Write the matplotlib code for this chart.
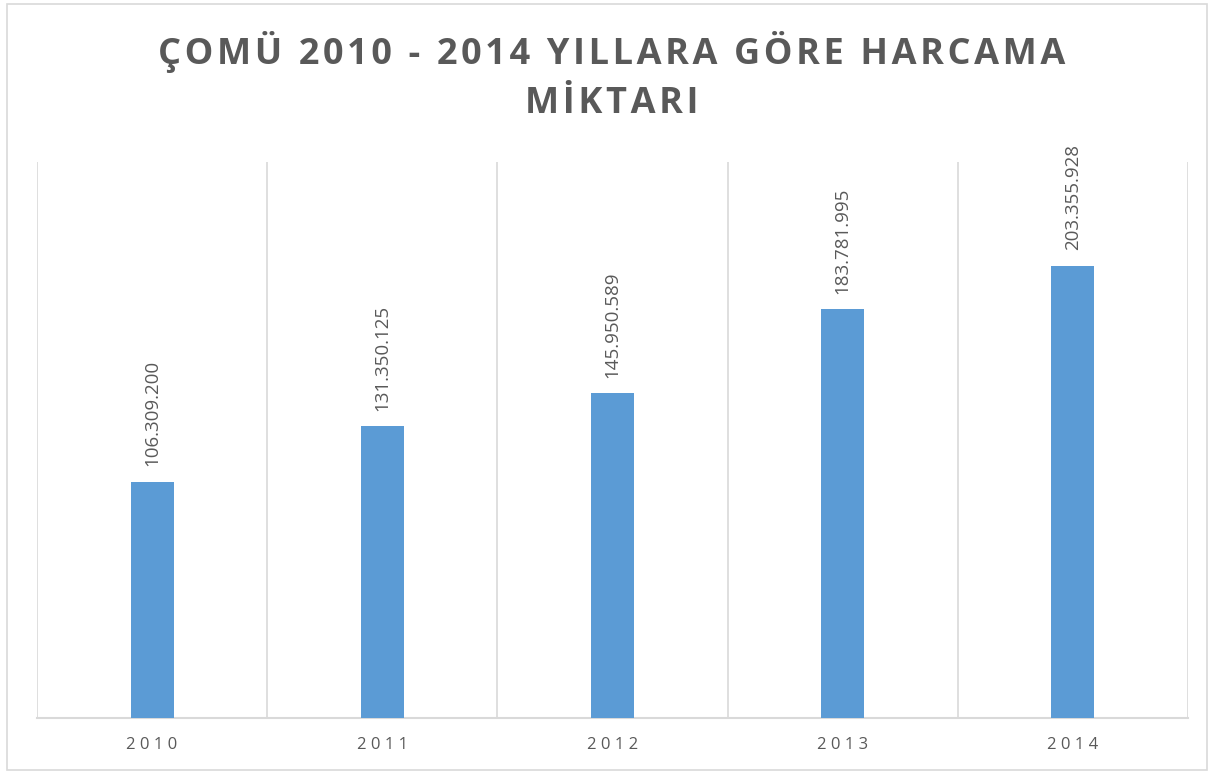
import matplotlib
matplotlib.use('Agg')
import matplotlib.pyplot as plt
from matplotlib.patches import Rectangle

# data
years = ['2010', '2011', '2012', '2013', '2014']
spending = [106309200, 131350125, 145950589, 183781995, 203355928]
labels = ['106.309.200', '131.350.125', '145.950.589', '183.781.995', '203.355.928']
titleLines = ['ÇOMÜ 2010 - 2014 YILLARA GÖRE HARCAMA', 'MİKTARI']

barColor = '#5B9BD5'
textColor = '#595959'
gridColor = '#D9D9D9'

fig = plt.figure(figsize=(12.16, 7.74), dpi=100)
fig.patches.append(Rectangle((0.006, 0.005), 0.987, 0.99, transform=fig.transFigure,
                             fill=False, edgecolor=gridColor, linewidth=1.2))

ax = fig.add_axes([0.0304, 0.0724, 0.9466, 0.7183])
x = list(range(len(years)))
ax.bar(x, spending, width=0.187, color=barColor, zorder=3)
ax.set_xlim(-0.5, len(years) - 0.5)
ax.set_ylim(0, 250e6)

for i in range(len(years) + 1):
    ax.axvline(i - 0.5, color=gridColor, linewidth=1.2, zorder=1)

for xi, v, lab in zip(x, spending, labels):
    ax.annotate(lab, (xi, v), xytext=(0, 11), textcoords='offset points',
                rotation=90, ha='center', va='bottom', fontsize=13.5,
                color=textColor, family='Open Sans')

for s in ['top', 'left', 'right']:
    ax.spines[s].set_visible(False)
ax.spines['bottom'].set_color(gridColor)
ax.spines['bottom'].set_linewidth(1.5)
ax.set_yticks([])
ax.set_xticks(x)
ax.set_xticklabels([' '.join(y) for y in years], fontsize=12, color=textColor,
                   family='Open Sans')
ax.tick_params(axis='x', length=0, pad=14)

# spaced-out title like the Excel chart
spaced = ['\u200a'.join(line) for line in titleLines]
fig.text(0.503, 0.933, spaced[0], ha='center', va='center', fontsize=26,
         fontweight='bold', color=textColor, family=['Open Sans', 'DejaVu Sans'])
fig.text(0.503, 0.866, spaced[1], ha='center', va='center', fontsize=26,
         fontweight='bold', color=textColor, family=['Open Sans', 'DejaVu Sans'])

fig.savefig('out.png', dpi=100)
